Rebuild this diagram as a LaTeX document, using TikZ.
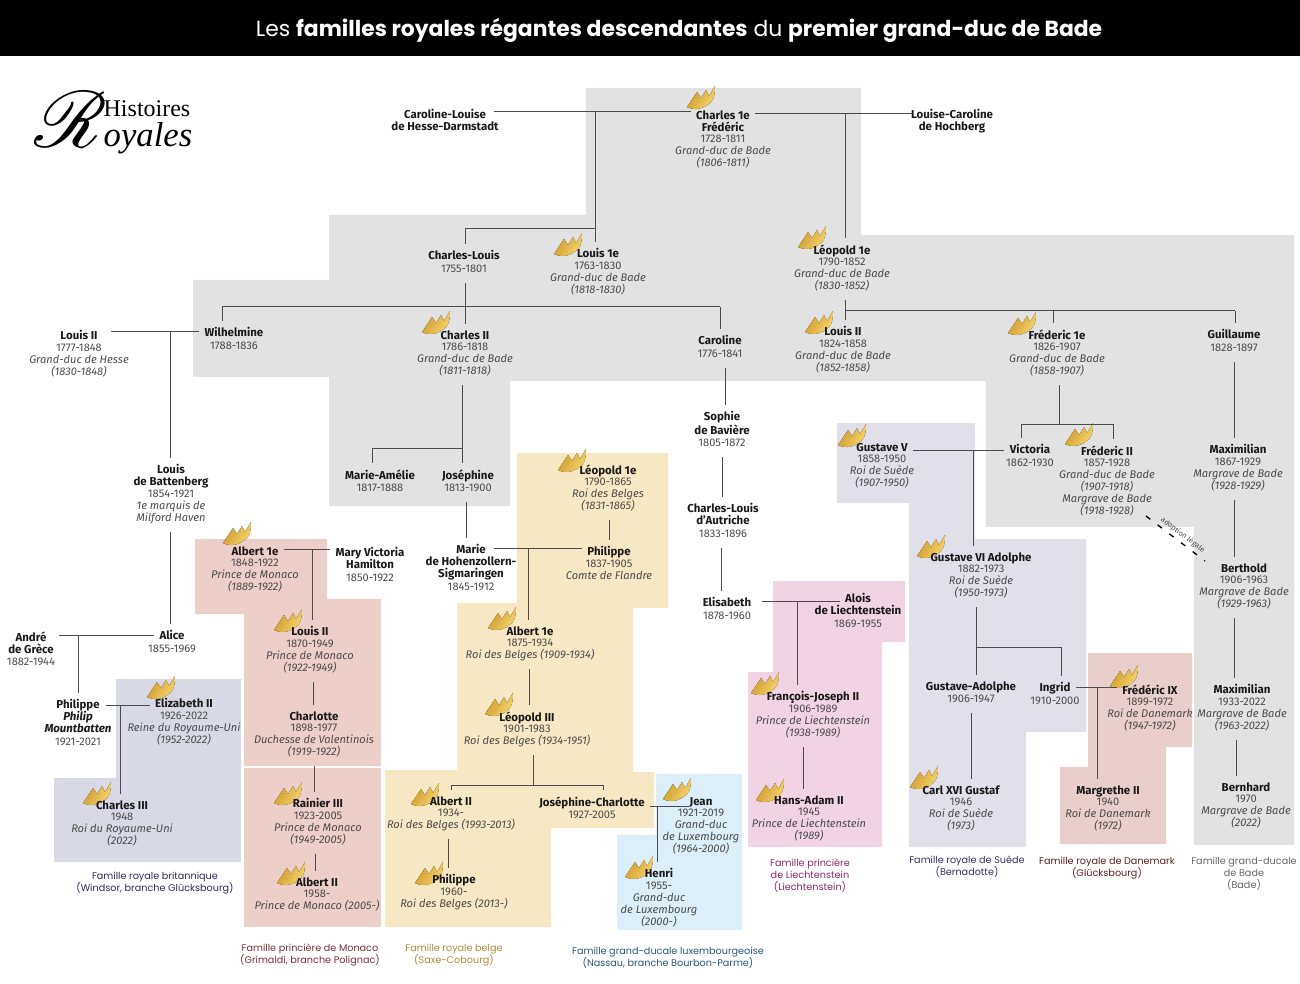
\documentclass[tikz,border=0pt]{standalone}
\usepackage{fontspec}
\usepackage{mathrsfs}
\setmainfont{Fira Sans}
\newfontfamily\capfont{Poppins}
\newfontfamily\logofont{Liberation Serif}
\usetikzlibrary{calc}

\definecolor{bgbade}{HTML}{E2E2E2}
\definecolor{bguk}{HTML}{D9D8E5}
\definecolor{bgmonaco}{HTML}{EDCFC9}
\definecolor{bgbelge}{HTML}{F6E8C3}
\definecolor{bglux}{HTML}{DCEEF8}
\definecolor{bgliech}{HTML}{F0D4E3}
\definecolor{bgsuede}{HTML}{E0DFEA}
\definecolor{bgdk}{HTML}{E9CFCB}
\definecolor{goldlight}{HTML}{F6D66E}
\definecolor{golddark}{HTML}{CF9A2E}
\definecolor{capuk}{HTML}{2E2A5C}
\definecolor{capmc}{HTML}{7A2F3A}
\definecolor{capbe}{HTML}{B08A3C}
\definecolor{caplu}{HTML}{2A5870}
\definecolor{capli}{HTML}{8E2A6A}
\definecolor{capse}{HTML}{33306A}
\definecolor{capdk}{HTML}{5C1F22}

\newcommand{\linestrut}{\rule[-2.7pt]{0pt}{9pt}}
% vertical link under a node, with an optional sideways offset in pixels
\newcommand{\vlink}[3][0]{\draw[stemlink] ([xshift=#1*0.75pt]#2.south) -- ([xshift=#1*0.75pt]#2.south |- #3.north);}
% same, but ending on a junction
\newcommand{\vjoin}[3][0]{\draw[link, shorten <=5pt] ([xshift=#1*0.75pt]#2.south) -- ([xshift=#1*0.75pt]#2.south |- #3);}

\tikzset{
    person/.style={anchor=north, yshift=3.5pt, align=center, inner xsep=4pt, inner ysep=0pt,
        font=\fontsize{8.6}{9}\selectfont\bfseries, text=black!90,
        execute at begin node=\linestrut, execute at end node=\linestrut},
    info/.style={align=center, inner sep=0pt, font=\fontsize{8.3}{9}\selectfont, text=black!70,
        execute at begin node=\linestrut, execute at end node=\linestrut},
    capt/.style={align=center, inner sep=0pt, yshift=-1.6pt, font=\fontsize{7.25}{9}\selectfont\capfont},
    link/.style={line width=0.75pt, draw=black!70},
    downlink/.style={link, shorten >=4.5pt},
    stemlink/.style={link, shorten <=5pt, shorten >=4.5pt},
    crown/.pic={
        \fill[left color=golddark, right color=goldlight, shading angle=60]
            (0,0) -- (10,-15) -- (14,-9) -- (19,-17) -- (22,-11) -- (28,-21)
            .. controls (28,-13) and (27,-8) .. (24,-5)
            .. controls (17,2) and (8,4) .. (0,0) -- cycle;
    }
}

\begin{document}
\begin{tikzpicture}[x=0.75pt, y=-0.75pt]
    \useasboundingbox (0,0) rectangle (1300,984);

    % Title band
    \fill[black] (0,0) rectangle (1300,56);
    \node[text=white, font=\fontsize{16.4}{18}\selectfont\capfont] (title) at (679,30)
        {Les \textbf{familles royales régantes descendantes} du \textbf{premier grand-duc de Bade}};

    % Logo
    \node[inner sep=0pt, scale=2.4, font=\fontsize{58}{58}\selectfont] (logor) at (71,120) {$\mathscr{R}$};
    \node[inner sep=0pt, font=\fontsize{18}{18}\selectfont\logofont] (logohist) at (147,109) {Histoires};
    \node[inner sep=0pt, font=\fontsize{26}{26}\selectfont\logofont\itshape] (logoroy) at (148,138) {oyales};

    % Family backgrounds
    \fill[bgbade] (586,88) -- (861,88) -- (861,235) -- (1294,235) -- (1294,845) -- (1194,845)
        -- (1194,527) -- (986,527) -- (986,381) -- (510,381) -- (510,506) -- (329,506) -- (329,377)
        -- (193,377) -- (193,280) -- (329,280) -- (329,215) -- (586,215) -- cycle;
    \fill[bguk] (116,679) -- (241,679) -- (241,862) -- (54,862) -- (54,778) -- (116,778) -- cycle;
    \fill[bgmonaco] (195,539) -- (327,539) -- (327,599) -- (381,599) -- (381,766) -- (244,766)
        -- (244,614) -- (195,614) -- cycle;
    \fill[bgmonaco] (244,768) rectangle (381,927);
    \fill[bgbelge] (517,453) -- (668,453) -- (668,608) -- (633,608) -- (633,772) -- (654,772)
        -- (654,828) -- (551,828) -- (551,927) -- (385,927) -- (385,770) -- (457,770) -- (457,603)
        -- (517,603) -- cycle;
    \fill[bglux] (656,774) -- (742,774) -- (742,930) -- (617,930) -- (617,835) -- (656,835) -- cycle;
    \fill[bgliech] (773,581) -- (905,581) -- (905,642) -- (882,642) -- (882,847) -- (748,847)
        -- (748,672) -- (773,672) -- cycle;
    \fill[bgsuede] (837,423) -- (975,423) -- (975,539) -- (1086,539) -- (1086,732) -- (1026,732)
        -- (1026,847) -- (909,847) -- (909,503) -- (837,503) -- cycle;
    \fill[bgdk] (1088,653) -- (1192,653) -- (1192,747) -- (1166,747) -- (1166,844) -- (1060,844)
        -- (1060,767) -- (1088,767) -- cycle;

    % Crowns of the reigning members
    \foreach \cx/\cy in {687/107, 554/254, 798/247, 422/332, 805/332, 1008/333, 1065/444, 838/445,
        917/556, 910/787, 1110/686, 751/693, 756/800, 558/470, 488/628, 485/714, 411/804, 415/883,
        663/799, 625/877, 223/543, 274/630, 274/803, 277/883, 147/697, 83/803}
        \pic at (\cx,\cy) {crown};

    % Baden
    \node[person] (carolinelouise) at (445,114) {Caroline-Louise\\de Hesse-Darmstadt};
    \node[person] (louisecaroline) at (952,114) {Louise-Caroline\\de Hochberg};
    \node[person, label={[info,name=charlesi]below:1728-1811\\\textit{Grand-duc de Bade}\\\textit{(1806-1811)}}] (charles) at (723,115) {Charles 1e\\Frédéric};
    \node[person, label={[info,name=charleslouisi]below:1755-1801}] (charleslouis) at (464,255) {Charles-Louis};
    \node[person, label={[info,name=louisai]below:1763-1830\\\textit{Grand-duc de Bade}\\\textit{(1818-1830)}}] (louisa) at (598,253) {Louis 1e};
    \node[person, label={[info,name=leopoldi]below:1790-1852\\\textit{Grand-duc de Bade}\\\textit{(1830-1852)}}] (leopold) at (842,249) {Léopold 1e};
    \node[person, label={[info,name=wilhelminei]below:1788-1836}] (wilhelmine) at (234,332) {Wilhelmine};
    \node[person, label={[info,name=louishessei]below:1777-1848\\\textit{Grand-duc de Hesse}\\\textit{(1830-1848)}}] (louishesse) at (79,335) {Louis II};
    \node[person, label={[info,name=charlesbi]below:1786-1818\\\textit{Grand-duc de Bade}\\\textit{(1811-1818)}}] (charlesb) at (465,335) {Charles II};
    \node[person, label={[info,name=carolinei]below:1776-1841}] (caroline) at (720,340) {Caroline};
    \node[person, label={[info,name=louisbi]below:1824-1858\\\textit{Grand-duc de Bade}\\\textit{(1852-1858)}}] (louisb) at (843,331) {Louis II};
    \node[person, label={[info,name=fredericai]below:1826-1907\\\textit{Grand-duc de Bade}\\\textit{(1858-1907)}}] (frederica) at (1057,334) {Fréderic 1e};
    \node[person, label={[info,name=guillaumei]below:1828-1897}] (guillaume) at (1234,334) {Guillaume};
    \node[person, label={[info,name=marieameliei]below:1817-1888}] (marieamelie) at (380,474) {Marie-Amélie};
    \node[person, label={[info,name=josephinei]below:1813-1900}] (josephine) at (468,474) {Joséphine};
    \node[person, label={[info,name=sophiei]below:1805-1872}] (sophie) at (722,416) {Sophie\\de Bavière};
    \node[person, label={[info,name=victoriai]below:1862-1930}] (victoria) at (1030,449) {Victoria};
    \node[person, label={[info,name=fredericbi]below:1857-1928\\\textit{Grand-duc de Bade}\\\textit{(1907-1918)}\\\textit{Margrave de Bade}\\\textit{(1918-1928)}}] (fredericb) at (1107,450) {Fréderic II};
    \node[person, label={[info,name=maxai]below:1867-1929\\\textit{Margrave de Bade}\\\textit{(1928-1929)}}] (maxa) at (1238,449) {Maximilian};
    \node[person, label={[info,name=bertholdi]below:1906-1963\\\textit{Margrave de Bade}\\\textit{(1929-1963)}}] (berthold) at (1244,568) {Berthold};
    \node[person, label={[info,name=maxbi]below:1933-2022\\\textit{Margrave de Bade}\\\textit{(1963-2022)}}] (maxb) at (1242,689) {Maximilian};
    \node[person, label={[info,name=bernhardi]below:1970\\\textit{Margrave de Bade}\\\textit{(2022)}}] (bernhard) at (1246,787) {Bernhard};

    % Battenberg, Windsor
    \node[person, label={[info,name=battenbergi]below:1854-1921\\\textit{1e marquis de}\\\textit{Milford Haven}}] (battenberg) at (171,469) {Louis\\de Battenberg};
    \node[person, label={[info,name=andrei]below:1882-1944}] (andre) at (31,636) {André\\de Grèce};
    \node[person, label={[info,name=alicei]below:1855-1969}] (alice) at (172,635) {Alice};
    \node[person, label={[info,name=philipi]below:1921-2021}] (philip) at (78,704) {Philippe\\\textit{Philip}\\\textit{Mountbatten}};
    \node[person, label={[info,name=elizabethi]below:1926-2022\\\textit{Reine du Royaume-Uni}\\\textit{(1952-2022)}}] (elizabeth) at (184,703) {Elizabeth II};
    \node[person, label={[info,name=charlesci]below:1948\\\textit{Roi du Royaume-Uni}\\\textit{(2022)}}] (charlesc) at (122,805) {Charles III};

    % Monaco
    \node[person, label={[info,name=albertmi]below:1848-1922\\\textit{Prince de Monaco}\\\textit{(1889-1922)}}] (albertm) at (255,551) {Albert 1e};
    \node[person, label={[info,name=maryi]below:1850-1922}] (mary) at (370,552) {Mary Victoria\\Hamilton};
    \node[person, label={[info,name=louismi]below:1870-1949\\\textit{Prince de Monaco}\\\textit{(1922-1949)}}] (louism) at (310,631) {Louis II};
    \node[person, label={[info,name=charlottei]below:1898-1977\\\textit{Duchesse de Valentinois}\\\textit{(1919-1922)}}] (charlotte) at (314,716) {Charlotte};
    \node[person, label={[info,name=rainieri]below:1923-2005\\\textit{Prince de Monaco}\\\textit{(1949-2005)}}] (rainier) at (318,803) {Rainier III};
    \node[person, label={[info,name=albertmbi]below:1958-\\\textit{Prince de Monaco (2005-)}}] (albertmb) at (317,882) {Albert II};

    % Belgium, Luxembourg
    \node[person, label={[info,name=leopoldbi]below:1790-1865\\\textit{Roi des Belges}\\\textit{(1831-1865)}}] (leopoldb) at (608,469) {Léopold 1e};
    \node[person, label={[info,name=mariei]below:1845-1912}] (marie) at (471,549) {Marie\\de Hohenzollern-\\Sigmaringen};
    \node[person, label={[info,name=philippebi]below:1837-1905\\\textit{Comte de Flandre}}] (philippeb) at (609,551) {Philippe};
    \node[person, label={[info,name=albertbi]below:1875-1934\\\textit{Roi des Belges (1909-1934)}}] (albertb) at (530,631) {Albert 1e};
    \node[person, label={[info,name=leopoldci]below:1901-1983\\\textit{Roi des Belges (1934-1951)}}] (leopoldc) at (527,716) {Léopold III};
    \node[person, label={[info,name=albertcbi]below:1934-\\\textit{Roi des Belges (1993-2013)}}] (albertcb) at (451,801) {Albert II};
    \node[person, label={[info,name=josephinechi]below:1927-2005}] (josephinech) at (592,801) {Joséphine-Charlotte};
    \node[person, label={[info,name=philippeci]below:1960-\\\textit{Roi des Belges (2013-)}}] (philippec) at (454,879) {Philippe};
    \node[person, label={[info,name=jeani]below:1921-2019\\\textit{Grand-duc}\\\textit{de Luxembourg}\\\textit{(1964-2000)}}] (jean) at (701,801) {Jean};
    \node[person, label={[info,name=henrii]below:1955-\\\textit{Grand-duc}\\\textit{de Luxembourg}\\\textit{(2000-)}}] (henri) at (659,873) {Henri};

    % Austria, Liechtenstein
    \node[person, label={[info,name=charlesauti]below:1833-1896}] (charlesaut) at (723,508) {Charles-Louis\\d'Autriche};
    \node[person, label={[info,name=elisabethi]below:1878-1960}] (elisabeth) at (727,602) {Elisabeth};
    \node[person, label={[info,name=aloisi]below:1869-1955}] (alois) at (858,598) {Alois\\de Liechtenstein};
    \node[person, label={[info,name=francoisi]below:1906-1989\\\textit{Prince de Liechtenstein}\\\textit{(1938-1989)}}] (francois) at (813,696) {François-Joseph II};
    \node[person, label={[info,name=hansi]below:1945\\\textit{Prince de Liechtenstein}\\\textit{(1989)}}] (hans) at (809,800) {Hans-Adam II};

    % Sweden, Denmark
    \node[person, label={[info,name=gustavevi]below:1858-1950\\\textit{Roi de Suède}\\\textit{(1907-1950)}}] (gustavev) at (882,447) {Gustave V};
    \node[person, label={[info,name=gustavesi]below:1882-1973\\\textit{Roi de Suède}\\\textit{(1950-1973)}}] (gustaves) at (981,557) {Gustave VI Adolphe};
    \node[person, label={[info,name=gustaveai]below:1906-1947}] (gustavea) at (971,686) {Gustave-Adolphe};
    \node[person, label={[info,name=ingridi]below:1910-2000}] (ingrid) at (1055,687) {Ingrid};
    \node[person, label={[info,name=carli]below:1946\\\textit{Roi de Suède}\\\textit{(1973)}}] (carl) at (961,790) {Carl XVI Gustaf};
    \node[person, label={[info,name=fredix]below:1899-1972\\\textit{Roi de Danemark}\\\textit{(1947-1972)}}] (frederix) at (1150,689) {Frédéric IX};
    \node[person, label={[info,name=margrethei]below:1940\\\textit{Roi de Danemark}\\\textit{(1972)}}] (margrethe) at (1108,790) {Margrethe II};

    % Family captions
    \node[capt, text=capuk] (captuk) at (155,881) {Famille royale britannique\\(Windsor, branche Glücksbourg)};
    \node[capt, text=capmc] (captmc) at (310,953) {Famille princière de Monaco\\(Grimaldi, branche Polignac)};
    \node[capt, text=capbe] (captbe) at (454,953) {Famille royale belge\\(Saxe-Cobourg)};
    \node[capt, text=caplu] (captlu) at (668,956) {Famille grand-ducale luxembourgeoise\\(Nassau, branche Bourbon-Parme)};
    \node[capt, text=capli] (captli) at (810,873) {Famille princière\\de Liechtenstein\\(Liechtenstein)};
    \node[capt, text=capse] (captse) at (967,864) {Famille royale de Suède\\(Bernadotte)};
    \node[capt, text=capdk] (captdk) at (1107,866) {Famille royale de Danemark\\(Glücksbourg)};
    \node[capt, text=black!60] (captbd) at (1244,872) {Famille grand-ducale\\de Bade\\(Bade)};

    % Junctions
    \coordinate (ucharlesa) at (595,112);
    \coordinate (ucharlesb) at (845,114);
    \coordinate (usiblouis) at (465,229);
    \coordinate (usibcharles) at (465,307);
    \coordinate (usibwilh) at (222,307);
    \coordinate (usibcaro) at (720,307);
    \coordinate (usibleopold) at (845,311);
    \coordinate (usibfred) at (1053,311);
    \coordinate (usibguil) at (1235,311);
    \coordinate (ucharlesc) at (462,448);
    \coordinate (usibamelie) at (372,448);
    \coordinate (uhesse) at (170,332);
    \coordinate (ugreece) at (78,635);
    \coordinate (uwindsor) at (120,705);
    \coordinate (umonaco) at (312,549);
    \coordinate (ubelge) at (528,548);
    \coordinate (usibbelge) at (533,785);
    \coordinate (usibalbert) at (451,785);
    \coordinate (usibjoseph) at (603,785);
    \coordinate (ulux) at (657,806);
    \coordinate (uliech) at (797,601);
    \coordinate (usuede) at (973,450);
    \coordinate (usibsuede) at (976,647);
    \coordinate (usibingrid) at (1061,647);
    \coordinate (udk) at (1097,687);
    \coordinate (usibbade) at (1059,424);
    \coordinate (usibvict) at (1021,424);
    \coordinate (usibfredb) at (1113,424);

    % Couples
    \draw[link, shorten <=-7.5pt] (carolinelouise.east |- ucharlesa) -- (charles.west |- ucharlesa);
    \draw[link, shorten >=-5pt] (charles.east |- ucharlesb) -- (louisecaroline.west |- ucharlesb);
    \draw[link, shorten <=6pt] (louishesse.east |- uhesse) -- (wilhelmine.west |- uhesse);
    \draw[link] (andre.east |- ugreece) -- (alice.west |- ugreece);
    \draw[link, shorten <=-8pt] (philip.east |- uwindsor) -- (elizabeth.west |- uwindsor);
    \draw[link] (albertm.east |- umonaco) -- (mary.west |- umonaco);
    \draw[link, shorten <=-21pt] (marie.east |- ubelge) -- (philippeb.west |- ubelge);
    \draw[link, shorten >=-4pt] (josephinech.east |- ulux) -- (jean.west |- ulux);
    \draw[link, shorten <=4pt, shorten >=-23pt] (elisabeth.east |- uliech) -- (alois.west |- uliech);
    \draw[link] (gustavev.east |- usuede) -- (victoria.west |- usuede);
    \draw[link] (ingrid.east |- udk) -- (frederix.west |- udk);

    % Children hanging from a couple or a sibling bar
    \draw[downlink] (ucharlesa) -- (ucharlesa |- louisa.north);
    \draw[link] (ucharlesa |- usiblouis) -- (usiblouis);
    \draw[downlink] (usiblouis) -- (usiblouis |- charleslouis.north);
    \draw[downlink] (ucharlesb) -- (ucharlesb |- leopold.north);
    \draw[link] (usibwilh) -- (usibcaro);
    \draw[downlink] (usibcharles) -- (usibcharles |- charlesb.north);
    \draw[downlink] (usibwilh) -- (usibwilh |- wilhelmine.north);
    \draw[downlink] (usibcaro) -- (usibcaro |- caroline.north);
    \vjoin[1]{charleslouisi}{usibcharles}
    \draw[link] (usibleopold) -- (usibguil);
    \draw[downlink] (usibleopold) -- (usibleopold |- louisb.north);
    \draw[downlink] (usibfred) -- (usibfred |- frederica.north);
    \draw[downlink] (usibguil) -- (usibguil |- guillaume.north);
    \draw[downlink] (uhesse) -- (uhesse |- battenberg.north);
    \draw[link] (usibvict) -- (usibfredb);
    \draw[downlink] (usibvict) -- (usibvict |- victoria.north);
    \draw[downlink] (usibfredb) -- (usibfredb |- fredericb.north);
    \draw[link] (usibamelie) -- (ucharlesc);
    \draw[downlink] (usibamelie) -- (usibamelie |- marieamelie.north);
    \draw[downlink] (ucharlesc) -- (ucharlesc |- josephine.north);
    \draw[downlink] (ugreece) -- (ugreece |- philip.north);
    \draw[downlink] (uwindsor) -- (uwindsor |- charlesc.north);
    \draw[downlink] (umonaco) -- (umonaco |- louism.north);
    \draw[downlink] (ubelge) -- (ubelge |- albertb.north);
    \draw[link] (usibalbert) -- (usibjoseph);
    \draw[downlink] (usibalbert) -- (usibalbert |- albertcb.north);
    \draw[downlink] (usibjoseph) -- (usibjoseph |- josephinech.north);
    \draw[downlink] (ulux) -- (ulux |- henri.north);
    \draw[downlink] (uliech) -- (uliech |- francois.north);
    \draw[downlink] (usuede) -- (usuede |- gustaves.north);
    \draw[link] (usibsuede) -- (usibingrid);
    \draw[downlink] (usibingrid) -- (usibingrid |- ingrid.north);
    \draw[downlink] (udk) -- (udk |- margrethe.north);

    % Straight descent
    \vjoin[-3]{charlesbi}{ucharlesc}
    \vlink[5]{carolinei}{sophie}
    \vlink{sophiei}{charlesaut}
    \vlink[-2]{charlesauti}{elisabeth}
    \vlink[-2]{josephinei}{marie}
    \vlink[1]{leopoldbi}{philippeb}
    \vlink[-1]{albertbi}{leopoldc}
    \vjoin[6]{leopoldci}{usibbelge}
    \vlink[-3]{albertcbi}{philippec}
    \vlink[-10]{francoisi}{hans}
    \vlink[-5]{gustavesi}{gustavea}
    \vlink{gustaveai}{carl}
    \vlink[3]{louismi}{charlotte}
    \vlink[0]{charlottei}{rainier}
    \vlink[-3]{rainieri}{albertmb}
    \vlink[-1]{battenbergi}{alice}
    \vlink[-4]{maxai}{berthold}
    \vlink[-10]{bertholdi}{maxb}
    \vlink[-6]{maxbi}{bernhard}
    \vlink{guillaumei}{maxa}
    \vjoin[2]{fredericai}{usibbade}
    \vjoin[3]{leopoldi}{usibleopold}

    % Legal adoption
    \coordinate (adoptfrom) at (1146,516);
    \coordinate (adoptto) at (1205,561);
    \draw[line width=1pt, dash pattern=on 4pt off 7pt] (adoptfrom) -- (adoptto)
        node[pos=0.55, sloped, above=2pt, inner sep=0pt, font=\fontsize{5.6}{5.6}\selectfont, text=black!70] (adoptlabel) {adoption légale};
\end{tikzpicture}
\end{document}
